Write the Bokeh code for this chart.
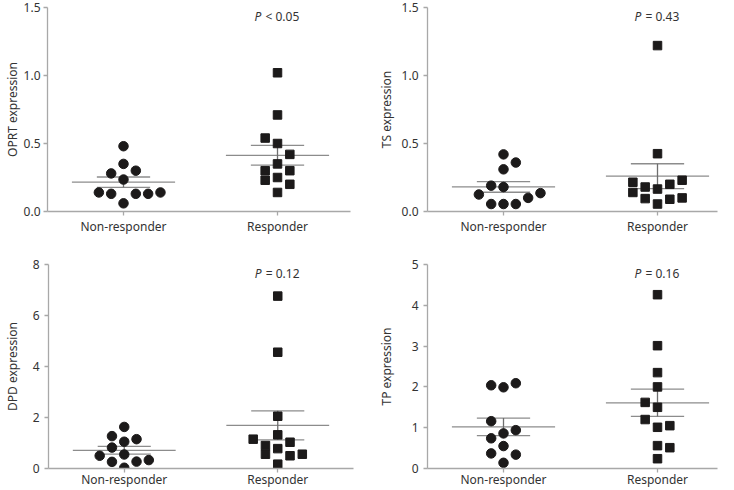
import numpy as np
from bokeh.plotting import figure
from bokeh.models import FixedTicker, Label, Range1d, PrintfTickFormatter
from bokeh.layouts import column, row
from bokeh.embed import file_html
from bokeh.resources import INLINE

groups = ["Non-responder", "Responder"]

# OPRT
oprt_non = [0.48, 0.35, 0.28, 0.30, 0.235, 0.14, 0.13, 0.13, 0.13, 0.14, 0.06]
oprt_non_col = [0, 0, -1, 1, 0, -2, -1, 1, 2, 3, 0]
oprt_resp = [1.02, 0.71, 0.54, 0.50, 0.42, 0.35, 0.30, 0.30, 0.25, 0.23, 0.20, 0.14]
oprt_resp_col = [0, 0, -1, 0, 1, 0, -1, 1, 0, -1, 1, 0]
# TS
ts_non = [0.42, 0.36, 0.31, 0.19, 0.18, 0.125, 0.135, 0.10, 0.055, 0.055, 0.055]
ts_non_col = [0, 1, 0, -1, 0, -2, 3, 2, -1, 0, 1]
ts_resp = [1.22, 0.425, 0.215, 0.23, 0.20, 0.18, 0.165, 0.14, 0.095, 0.09, 0.10, 0.055]
ts_resp_col = [0, 0, -2, 2, 1, -1, 0, -2, -1, 1, 2, 0]
# DPD
dpd_non = [1.63, 1.27, 1.05, 1.15, 0.82, 0.55, 0.50, 0.26, 0.27, 0.33, 0.03]
dpd_non_col = [0, -1, 0, 1, -1, 0, -2, -1, 1, 2, 0]
dpd_resp = [6.76, 4.56, 2.05, 1.15, 1.32, 1.03, 0.90, 0.78, 0.56, 0.50, 0.56, 0.17]
dpd_resp_col = [0, 0, 0, -2, 0, 1, -1, 0, -1, 1, 2, 0]
# TP
tp_non = [2.04, 1.99, 2.09, 1.16, 0.94, 0.86, 0.74, 0.55, 0.37, 0.34, 0.14]
tp_non_col = [-1, 0, 1, -1, 1, 0, -1, 0, -1, 1, 0]
tp_resp = [4.26, 3.01, 2.35, 2.00, 1.62, 1.50, 1.20, 1.01, 1.05, 0.56, 0.51, 0.24]
tp_resp_col = [0, 0, 0, 0, -1, 0, -1, 0, 1, 0, 1, 0]

p_values = ["< 0.05", "= 0.43", "= 0.12", "= 0.16"]
y_labels = ["OPRT expression", "TS expression", "DPD expression", "TP expression"]

FONT = "Noto Sans"
TXT = "#333333"
AXC = "#a8a8a8"
LINEC = "#8c8c8c"
STEP = 0.08
FS = "12px"


def panel(ylabel, non, non_col, resp, resp_col, ymax, yticks, fmt, ptxt,
          left, right, top, bottom, ylab_stand, xlab_stand, ytick_stand):
    W, H = 367, 245
    frame_w = W - left - right
    unit = 154.0
    x0 = -76.0 / unit
    x1 = x0 + frame_w / unit
    p = figure(width=W, height=H, output_backend="svg", toolbar_location=None,
               x_range=Range1d(x0, x1), y_range=Range1d(0, ymax),
               min_border_left=left, min_border_right=right,
               min_border_top=top, min_border_bottom=bottom)
    p.outline_line_color = None
    p.grid.visible = False
    p.background_fill_color = "white"
    p.border_fill_color = "white"

    for c, vals, cols, marker, sz in [(0, non, non_col, "circle", 9.5),
                                       (1, resp, resp_col, "square", 8.5)]:
        v = np.array(vals)
        m = v.mean()
        s = v.std(ddof=1) / np.sqrt(len(v))
        p.segment(x0=[c - 0.335], x1=[c + 0.335], y0=[m], y1=[m],
                  line_color=LINEC, line_width=1.3)
        p.segment(x0=[c - 0.173, c - 0.173], x1=[c + 0.173, c + 0.173],
                  y0=[m - s, m + s], y1=[m - s, m + s],
                  line_color=LINEC, line_width=1.3)
        p.segment(x0=[c], x1=[c], y0=[m - s], y1=[m + s],
                  line_color="#6e6e6e", line_width=1.3)
        xs = [c + k * STEP for k in cols]
        p.scatter(x=xs, y=vals, marker=marker, size=sz,
                  fill_color="#1c1a1a", line_color="#1c1a1a")

    for ax in (p.xaxis[0], p.yaxis[0]):
        ax.axis_line_color = AXC
        ax.axis_line_width = 1.3
        ax.major_tick_line_color = AXC
        ax.major_tick_line_width = 1.3
        ax.major_tick_out = 4
        ax.major_tick_in = 0
        ax.minor_tick_line_color = None
        ax.major_label_text_font = FONT
        ax.major_label_text_font_size = FS
        ax.major_label_text_color = TXT
        ax.axis_label_text_font = FONT
        ax.axis_label_text_font_size = FS
        ax.axis_label_text_font_style = "normal"
        ax.axis_label_text_color = TXT

    p.xaxis.ticker = FixedTicker(ticks=[0, 1])
    p.xaxis.major_label_overrides = {0: groups[0], 1: groups[1]}
    p.xaxis.major_label_standoff = xlab_stand
    p.yaxis.ticker = FixedTicker(ticks=yticks)
    p.yaxis.formatter = PrintfTickFormatter(format=fmt)
    p.yaxis.major_label_standoff = ytick_stand
    p.yaxis.axis_label = ylabel
    p.yaxis.axis_label_standoff = ylab_stand

    ytxt = ymax * (1 - 8.5 / 204.0)
    p.add_layout(Label(x=1, y=ytxt, x_offset=-23, text="P",
                       text_font=FONT, text_font_size=FS,
                       text_font_style="italic", text_color=TXT,
                       text_align="left", text_baseline="middle"))
    p.add_layout(Label(x=1, y=ytxt, x_offset=-12, text=ptxt,
                       text_font=FONT, text_font_size=FS,
                       text_color=TXT, text_align="left",
                       text_baseline="middle"))
    return p


p1 = panel(y_labels[0], oprt_non, oprt_non_col, oprt_resp, oprt_resp_col,
           1.5, [0, 0.5, 1.0, 1.5], "%.1f", p_values[0], 47, 17, 7, 34, 0, 2, 3)
p2 = panel(y_labels[1], ts_non, ts_non_col, ts_resp, ts_resp_col,
           1.5, [0, 0.5, 1.0, 1.5], "%.1f", p_values[1], 60, 17, 7, 34, 4, 2, 5)
p3 = panel(y_labels[2], dpd_non, dpd_non_col, dpd_resp, dpd_resp_col,
           8, [0, 2, 4, 6, 8], "%d", p_values[2], 47, 14, 19, 22, 9, -2, 5)
p4 = panel(y_labels[3], tp_non, tp_non_col, tp_resp, tp_resp_col,
           5, [0, 1, 2, 3, 4, 5], "%d", p_values[3], 60, 17, 19, 22, 14, -2, 5)

layout = column(row(p1, p2), row(p3, p4))
layout.styles = {"position": "absolute", "left": "0px", "top": "0px"}

open("out.html", "w").write(file_html(layout, INLINE))
